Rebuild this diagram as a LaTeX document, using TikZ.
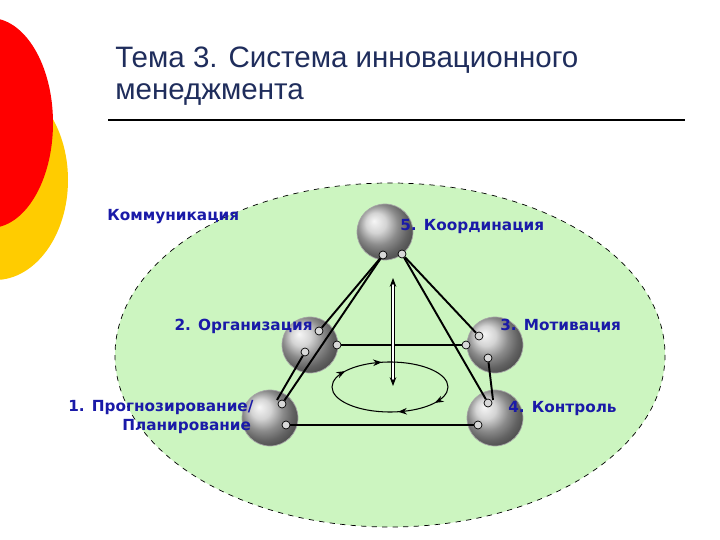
\documentclass[tikz,border=0pt]{standalone}
\usepackage{fontspec}
\setmainfont{Liberation Sans}
\newfontfamily\lbl{DejaVu Sans}
\usetikzlibrary{arrows.meta,decorations.markings}
\definecolor{ttl}{HTML}{1F2D5C}
\definecolor{lblc}{HTML}{1A1AA8}
\definecolor{ylw}{HTML}{FFCC00}
\tikzset{
 sph/.style={circle,minimum size=56*0.02cm,inner sep=0,shading=ball,ball color=gray!45,draw=gray!70},
 pin/.style={circle,minimum size=8*0.02cm,inner sep=0,draw=black,fill=gray!30,line width=0.4pt},
 lab/.style={text=lblc,font=\lbl\bfseries\fontsize{8.7}{10}\selectfont,inner sep=0},
 ttlst/.style={anchor=west,text=ttl,font=\fontsize{16.8}{19}\selectfont,inner sep=0},
 con/.style={line width=1.1pt},
}
\begin{document}
\begin{tikzpicture}[x=0.02cm,y=-0.02cm]
\useasboundingbox (0,0) rectangle (720,540);
\fill[white] (0,0) rectangle (720,540);
\fill[ylw] (-5,180) ellipse [x radius=73,y radius=100];
\fill[red] (-10,123) ellipse [x radius=63,y radius=105];
\node[ttlst] (t1) at (115,60) {Тема 3. Система инновационного};
\node[ttlst] (t2) at (115,95) {менеджмента};
\draw[line width=0.6pt] (108,120) -- (685,120);
\draw[dashed,fill={rgb,255:red,204;green,245;blue,192}] (390,355) ellipse [x radius=275,y radius=172];
% spheres
\node[sph] (s5) at (385,232) {};
\node[sph] (s2) at (310,345) {};
\node[sph] (s3) at (495,345) {};
\node[sph] (s1) at (270,418) {};
\node[sph] (s4) at (495,418) {};
% pins
\node[pin] (p5a) at (383,255) {};
\node[pin] (p5b) at (402,254) {};
\node[pin] (p2a) at (319,331) {};
\node[pin] (p2b) at (337,345) {};
\node[pin] (p2c) at (305,352) {};
\node[pin] (p3a) at (479,336) {};
\node[pin] (p3b) at (466,345) {};
\node[pin] (p3c) at (488,358) {};
\node[pin] (p1a) at (282,404) {};
\node[pin] (p1b) at (286,425) {};
\node[pin] (p4a) at (488,403) {};
\node[pin] (p4b) at (478,425) {};
\coordinate (c1) at (277,400);
\coordinate (c4) at (493,400);
% connectors
\draw[con] (p5a) -- (p2a);
\draw[con] (p5a) -- (p1a);
\draw[con] (p2c) -- (c1);
\draw[con] (p5b) -- (p3a);
\draw[con] (p5b) -- (p4a);
\draw[con] (p2b) -- (p3b);
\draw[con] (p3c) -- (c4);
\draw[con] (p1b) -- (p4b);
% center
\coordinate (va) at (393,278);
\coordinate (vb) at (393,386);
\draw[double=white,double distance=1.2pt,line width=0.5pt,{Stealth[length=5pt]}-{Stealth[length=5pt]}] (va) -- (vb);
\draw[line width=0.6pt,decoration={markings,
 mark=at position 0.08 with {\arrow{Stealth[length=5pt]}},
 mark=at position 0.22 with {\arrow{Stealth[length=5pt]}},
 mark=at position 0.58 with {\arrow{Stealth[length=5pt]}},
 mark=at position 0.72 with {\arrow{Stealth[length=5pt]}}},postaction={decorate}]
 (390,387) ellipse [x radius=58,y radius=25];
% labels
\node[lab,anchor=west] (l0) at (107,217) {Коммуникация};
\node[lab,anchor=west] (l5) at (400,227) {5. Координация};
\node[lab,anchor=east] (l2) at (313,326) {2. Организация};
\node[lab,anchor=west] (l3) at (500,326) {3. Мотивация};
\node[lab,anchor=west] (l1) at (68,408) {1. Прогнозирование/};
\node[lab,anchor=west] (l1b) at (122,427) {Планирование};
\node[lab,anchor=west] (l4) at (508,409) {4. Контроль};
\end{tikzpicture}
\end{document}
